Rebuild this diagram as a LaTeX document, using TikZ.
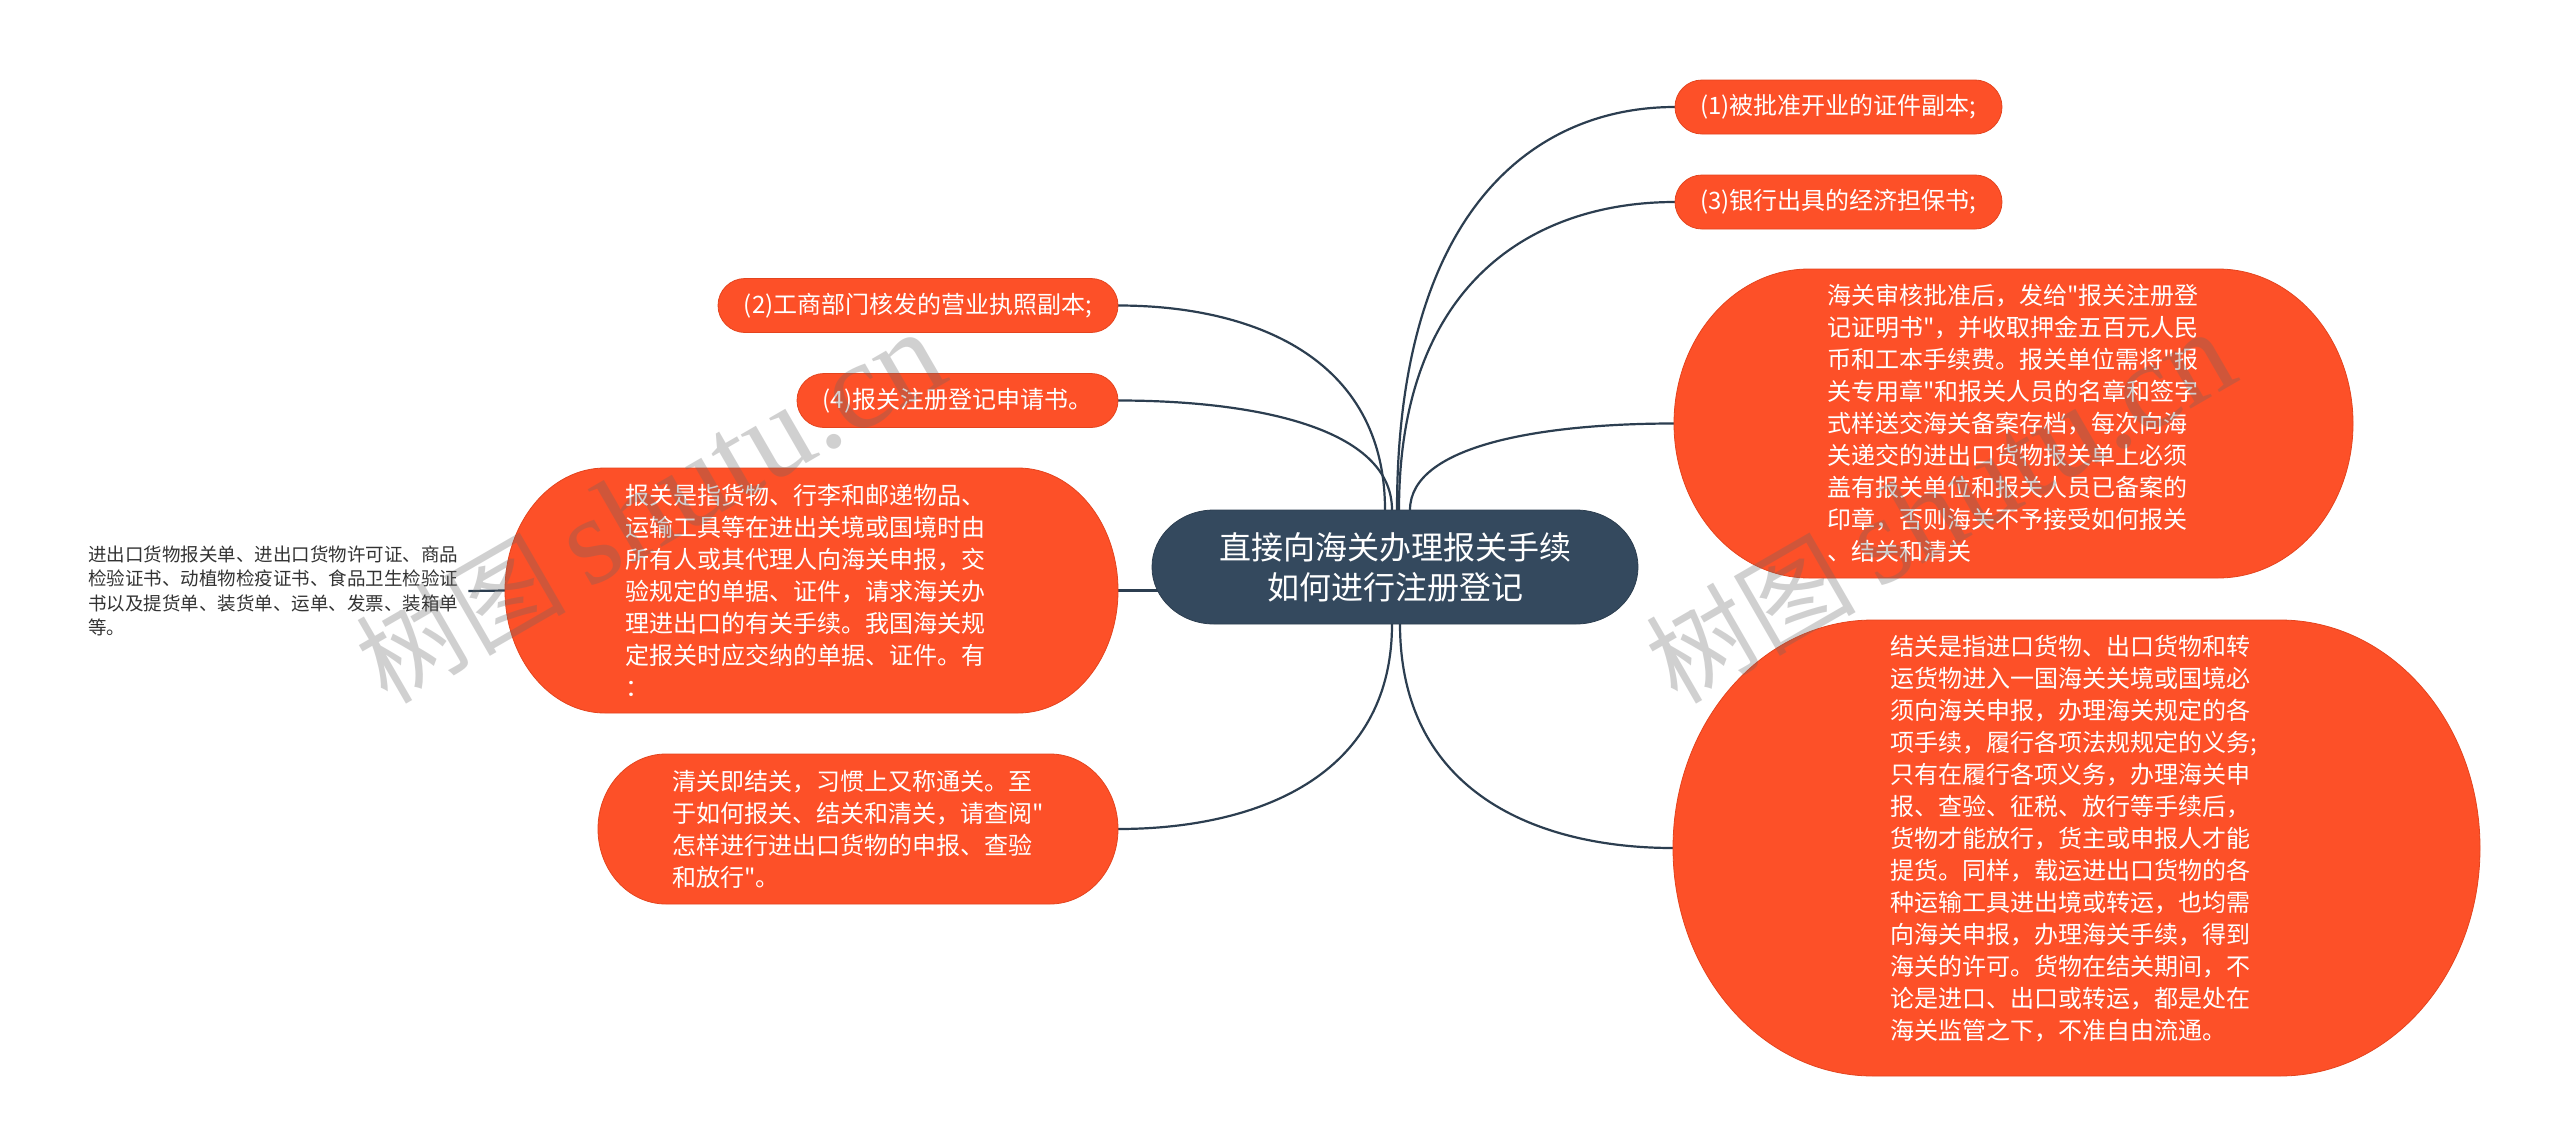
\documentclass[tikz,border=0pt]{standalone}
\usepackage{fontspec}
\newfontfamily\cjk{Noto Sans CJK SC}
\newfontfamily\wmserif{Liberation Serif}
\usetikzlibrary{calc}
\pgfdeclarelayer{paper}
\pgfdeclarelayer{lines}
\pgfdeclarelayer{fills}
\pgfdeclarelayer{marks}
\pgfsetlayers{paper,lines,fills,main,marks}
\definecolor{orfill}{HTML}{FD5028}
\definecolor{oredge}{HTML}{E4441E}
\definecolor{central}{HTML}{34495E}
\definecolor{linec}{HTML}{2C3E50}
\definecolor{leaftxt}{HTML}{333333}
\newcommand\capsule[4]{%
  \begin{pgfonlayer}{fills}
  \path[#4] ($(#1.north west)+(#2pt,0pt)$) -- ($(#1.north east)+(-#2pt,0pt)$)
    arc[start angle=90,end angle=-90,x radius=#2pt,y radius=#3pt]
    -- ($(#1.south west)+(#2pt,0pt)$)
    arc[start angle=270,end angle=90,x radius=#2pt,y radius=#3pt] -- cycle;
  \end{pgfonlayer}}
\newcommand\curvelink[2]{%
  \begin{pgfonlayer}{lines}
  \draw[conn] let \p1=(#1), \p2=(#2) in (\p1) .. controls (\x1,{\y1+0.75*(\y2-\y1)}) and ({\x2+0.5*(\x1-\x2)},\y2) .. (\p2);
  \end{pgfonlayer}}
\tikzset{
  box/.style={inner sep=0pt, outer sep=0pt, text=white, align=left, font=\cjk\fontsize{24}{32}\selectfont},
  bigbox/.style={box, text width=372pt},
  conn/.style={draw=linec, line width=2.2pt},
  ofill/.style={fill=orfill, draw=oredge, line width=0.8pt},
  cfill/.style={fill=central, draw=central!85!black, line width=0.8pt},
  wmark/.style={text=black!60, opacity=0.3, rotate=30, inner sep=0pt},
}
\begin{document}
\begin{tikzpicture}[x=1pt,y=-1pt]
\begin{pgfonlayer}{paper}
\fill[white] (0,0) rectangle (2560,1135);
\end{pgfonlayer}
\useasboundingbox (0,0) rectangle (2560,1135);
% central
\node[box, align=center, font=\cjk\fontsize{32}{40}\selectfont, minimum width=486pt, minimum height=114pt] (c) at (1395,567) {直接向海关办理报关手续\\如何进行注册登记};
\capsule{c}{62}{57}{cfill}
% right small
\node[box, minimum width=327pt, minimum height=54pt] (n1) at (1838.5,107) {(1)被批准开业的证件副本;};
\capsule{n1}{27}{27}{ofill}
\node[box, minimum width=327pt, minimum height=54pt] (n3) at (1838.5,202) {(3)银行出具的经济担保书;};
\capsule{n3}{27}{27}{ofill}
% right big 1
\node[bigbox, minimum width=679pt, minimum height=309pt] (r1) at (2013.5,423.5) {海关审核批准后，发给"报关注册登\\记证明书"，并收取押金五百元人民\\币和工本手续费。报关单位需将"报\\关专用章"和报关人员的名章和签字\\式样送交海关备案存档，每次向海\\关递交的进出口货物报关单上必须\\盖有报关单位和报关人员已备案的\\印章，否则海关不予接受如何报关\\、结关和清关};
\capsule{r1}{135}{154.5}{ofill}
% right big 2 (shape node + its text)
\node[box, minimum width=807pt, minimum height=456pt] (r2) at (2076.5,848) {};
\capsule{r2}{200}{228}{ofill}
\node[bigbox] (r2t) at (2076.5,838.5) {结关是指进口货物、出口货物和转\\运货物进入一国海关关境或国境必\\须向海关申报，办理海关规定的各\\项手续，履行各项法规规定的义务;\\只有在履行各项义务，办理海关申\\报、查验、征税、放行等手续后，\\货物才能放行，货主或申报人才能\\提货。同样，载运进出口货物的各\\种运输工具进出境或转运，也均需\\向海关申报，办理海关手续，得到\\海关的许可。货物在结关期间，不\\论是进口、出口或转运，都是处在\\海关监管之下，不准自由流通。};
% left small
\node[box, minimum width=400pt, minimum height=54pt] (n2) at (918,305.5) {(2)工商部门核发的营业执照副本;};
\capsule{n2}{27}{27}{ofill}
\node[box, minimum width=321pt, minimum height=54pt] (n4) at (957.5,400.5) {(4)报关注册登记申请书。};
\capsule{n4}{27}{27}{ofill}
% left big
\node[bigbox, minimum width=613pt, minimum height=245pt] (lb) at (811.5,590.5) {报关是指货物、行李和邮递物品、\\运输工具等在进出关境或国境时由\\所有人或其代理人向海关申报，交\\验规定的单据、证件，请求海关办\\理进出口的有关手续。我国海关规\\定报关时应交纳的单据、证件。有\\：};
\capsule{lb}{100}{122.5}{ofill}
% bottom left
\node[bigbox, minimum width=520pt, minimum height=150pt] (bl) at (858,829) {清关即结关，习惯上又称通关。至\\于如何报关、结关和清关，请查阅"\\怎样进行进出口货物的申报、查验\\和放行"。};
\capsule{bl}{68}{75}{ofill}
% leaf text
\node[anchor=west, inner sep=0pt, text width=372pt, align=left, text=leaftxt, font=\cjk\fontsize{18.5}{24.5}\selectfont] (lt) at (88,591) {进出口货物报关单、进出口货物许可证、商品\\检验证书、动植物检疫证书、食品卫生检验证\\书以及提货单、装货单、运单、发票、装箱单\\等。};
% connectors
\coordinate (s2) at ($(c.north)+(-10pt,0pt)$);
\coordinate (s4) at ($(c.north)+(-3pt,0pt)$);
\coordinate (s1) at ($(c.north)+(2pt,0pt)$);
\coordinate (s3) at ($(c.north)+(4pt,0pt)$);
\coordinate (sr1) at ($(c.north)+(15pt,0pt)$);
\coordinate (sbl) at ($(c.south)+(-3pt,0pt)$);
\coordinate (sr2) at ($(c.south)+(5pt,0pt)$);
\curvelink{s1}{n1.west}
\curvelink{s3}{n3.west}
\curvelink{sr1}{r1.west}
\curvelink{s2}{n2.east}
\curvelink{s4}{n4.east}
\curvelink{sbl}{bl.east}
\curvelink{sr2}{r2.west}
\begin{pgfonlayer}{lines}
\draw[conn] (lb.east) -- (lb.east -| c.center);
\draw[conn] ([xshift=8pt]lt.east) -- (lb.west);
\end{pgfonlayer}
% watermarks
\begin{pgfonlayer}{marks}
\node[wmark] (wm1) at (650,508) {{\cjk\fontsize{105}{105}\selectfont 树图}\hspace{22pt}{\wmserif\fontsize{125}{125}\selectfont shutu.cn}};
\node[wmark] (wm2) at (1940,508) {{\cjk\fontsize{105}{105}\selectfont 树图}\hspace{22pt}{\wmserif\fontsize{125}{125}\selectfont shutu.cn}};
\end{pgfonlayer}
\end{tikzpicture}
\end{document}
